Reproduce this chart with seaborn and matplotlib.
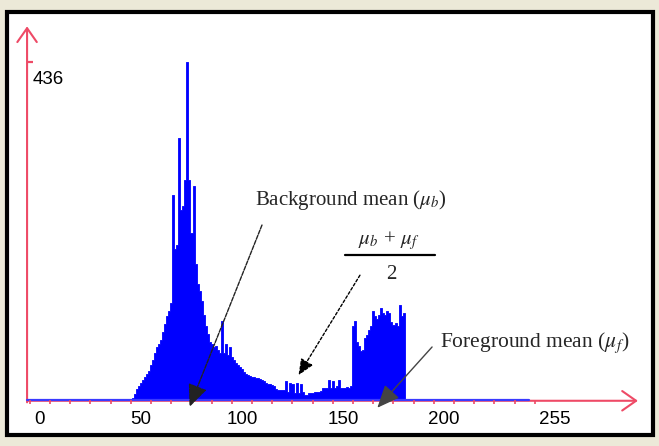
import numpy as np
import pandas as pd
import matplotlib
matplotlib.use("Agg")
import matplotlib.pyplot as plt
import seaborn as sns
from matplotlib.patches import Rectangle

# ---------------- data ----------------
levels = list(range(46, 181))
counts = [
    3, 8, 14, 18, 22, 26, 30, 34, 38, 45,          # 46-55
    52, 60, 68, 72, 78, 88, 98, 108, 115, 125,      # 56-65
    265, 195, 200, 338, 245, 250, 284, 436, 284, 215,  # 66-75
    276, 175, 150, 140, 128, 110, 95, 85, 75, 72,   # 76-85
    68, 70, 65, 60, 102, 60, 72, 58, 68, 56,        # 86-95
    52, 48, 45, 42, 40, 36, 34, 32, 31, 30,         # 96-105
    30, 29, 28, 27, 26, 24, 22, 21, 20, 19,         # 106-115
    18, 14, 13, 13, 13, 13, 24, 10, 22, 20,         # 116-125
    9, 22, 9, 20, 10, 6, 6, 9, 9, 9,                # 126-135
    10, 10, 10, 11, 15, 16, 15, 26, 15, 24,         # 136-145
    16, 18, 26, 15, 16, 15, 17, 15, 18, 95,         # 146-155
    102, 75, 70, 63, 65, 80, 84, 90, 95, 115,       # 156-165
    108, 105, 110, 119, 112, 110, 115, 112, 100, 97,  # 166-175
    99, 96, 123, 108, 112,                          # 176-180
]
xtick_labels = [0, 50, 100, 150, 200, 255]
ymax_label = 436
mu_b = 74
mu_f = 167
mid = 128

df = pd.DataFrame({"level": levels, "count": counts})

# ---------------- style ----------------
sns.set_theme(style="white")
plt.rcParams["font.family"] = ["Liberation Sans", "DejaVu Sans"]
plt.rcParams["mathtext.fontset"] = "stix"

RED = "#ee4a66"
BLUE = "#0000ff"

fig = plt.figure(figsize=(6.59, 4.46), dpi=100, facecolor="#ECE9D8")
ax = fig.add_axes([0, 0, 1, 1])
ax.set_facecolor("#ECE9D8")

# white frame with thick black border
ax.add_patch(Rectangle((7 / 659, 1 - 435 / 446), 646 / 659, 423 / 446,
                       transform=ax.transAxes, facecolor="white",
                       edgecolor="black", lw=3, zorder=0))

sns.histplot(data=df, x="level", weights="count", discrete=True,
             element="step", fill=True,
             color=BLUE, alpha=1, edgecolor=BLUE, linewidth=0.6, ax=ax, zorder=2)

x_axis = -6.4
# axes (red with open arrow heads)
ax.annotate("", xy=(x_axis, 482), xytext=(x_axis, -3),
            arrowprops=dict(arrowstyle="->,head_length=0.5,head_width=0.35",
                            color=RED, lw=1.5, mutation_scale=20,
                            shrinkA=0, shrinkB=0), zorder=1)
ax.annotate("", xy=(296, -1), xytext=(x_axis, -1),
            arrowprops=dict(arrowstyle="->,head_length=0.5,head_width=0.35",
                            color=RED, lw=1.5, mutation_scale=20,
                            shrinkA=0, shrinkB=0), zorder=1)
ax.plot([x_axis, 242], [0, 0], color="#3a3aff", lw=1.6, zorder=3)
ax.vlines(np.arange(-5, 250, 10), -5, 0, colors=RED, lw=1.2, zorder=4)
ax.hlines(ymax_label, x_axis, -3.5, colors=RED, lw=1.6, zorder=4)

ax.text(-3.5, 412.8, str(ymax_label), ha="left", va="center", fontsize=13.5, color="black")
for v in xtick_labels:
    ax.text(v, -25.8, str(v), ha="center", va="center", fontsize=13.5, color="black")

serif = ["Liberation Serif", "DejaVu Serif"]
ax.text(153.7, 258, r"Background mean ($\mu_b$)", ha="center", va="center",
        fontsize=15, family=serif, zorder=5)
ax.text(172.8, 206, r"$\mu_b$ + $\mu_f$", ha="center", va="center",
        fontsize=15, family=serif, zorder=5)
ax.plot([151, 195.5], [187, 187], color="black", lw=1.6, zorder=5)
ax.text(173.8, 162.5, "2", ha="center", va="center", fontsize=15, family=serif, zorder=5)
ax.text(198, 73.5, r"Foreground mean ($\mu_f$)", ha="left", va="center",
        fontsize=15.5, family=serif, zorder=5)

ax.annotate("", xy=(mu_b, -9), xytext=(109.9, 225.7),
            arrowprops=dict(arrowstyle="-|>,head_length=0.7,head_width=0.3",
                            mutation_scale=20, color="#222222", lw=1,
                            linestyle=(0, (3, 1)), shrinkA=0, shrinkB=0), zorder=6)
ax.annotate("", xy=(mid, 32), xytext=(158.4, 161),
            arrowprops=dict(arrowstyle="-|>,head_length=0.65,head_width=0.28",
                            mutation_scale=15, color="black", lw=1,
                            linestyle=(0, (2, 1.5)), shrinkA=0, shrinkB=0), zorder=6)
ax.annotate("", xy=(mu_f, -10), xytext=(194.1, 68.4),
            arrowprops=dict(arrowstyle="-|>,head_length=0.7,head_width=0.3",
                            mutation_scale=20, color="#444444", lw=1,
                            shrinkA=0, shrinkB=0), zorder=6)

ax.set_xlim(-19.8, 306.44)
ax.set_ylim(-59.34, 516.0)
ax.axis("off")

fig.savefig("out.png", dpi=100, facecolor=fig.get_facecolor())
